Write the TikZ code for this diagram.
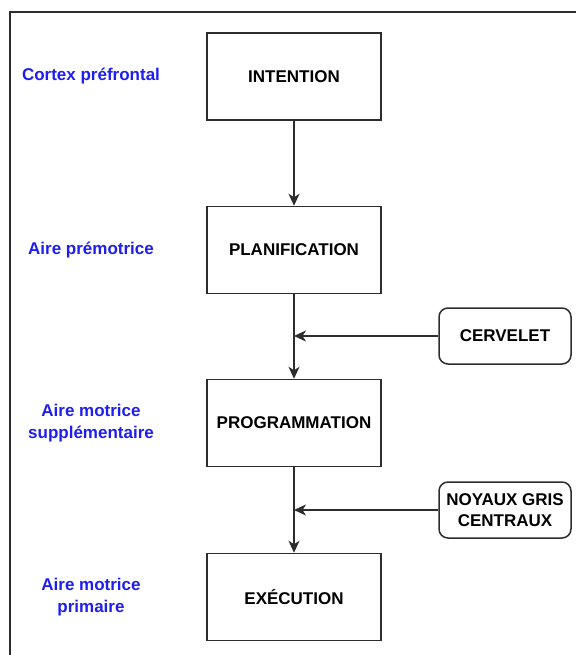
\documentclass[tikz,border=0pt]{standalone}
\usepackage{fontspec}
\setmainfont{Liberation Sans}
\usetikzlibrary{arrows.meta}
\definecolor{lblue}{RGB}{30,30,240}
\definecolor{edge}{RGB}{45,45,45}
\begin{document}
\begin{tikzpicture}[x=1pt,y=-1pt,
  stagebox/.style={draw=edge,line width=1.5pt,minimum width=174pt,minimum height=87pt,font=\fontsize{17}{20}\selectfont\bfseries,inner sep=0pt},
  sidebox/.style={draw=edge,line width=1.5pt,rounded corners=9pt,minimum width=132pt,minimum height=56pt,font=\fontsize{17}{21}\selectfont\bfseries,align=center,inner sep=0pt},
  area/.style={text=lblue,font=\fontsize{17}{22}\selectfont\bfseries,align=center},
  flow/.style={draw=edge,line width=1.4pt,-{Stealth[length=12pt,width=11pt,inset=3.5pt]}}]
\useasboundingbox (0,0) rectangle (576,655);
\fill[white] (0,0) rectangle (576,655);
\draw[draw=edge,line width=1.5pt] (10,655) -- (10,12) -- (576,12);
\node[stagebox] (int) at (294,76.5) {INTENTION};
\node[stagebox] (plan) at (294,250) {PLANIFICATION};
\node[stagebox] (prog) at (294,423) {PROGRAMMATION};
\node[stagebox] (exe) at (294,597) {EXÉCUTION};
\node[sidebox] (cer) at (505,336) {CERVELET};
\node[sidebox] (ngc) at (505,510) {NOYAUX GRIS\\CENTRAUX};
\node[area] (l1) at (91,76) {Cortex préfrontal};
\node[area] (l2) at (91,250) {Aire prémotrice};
\node[area] (l3) at (91,423) {Aire motrice\\supplémentaire};
\node[area] (l4) at (91,597) {Aire motrice\\primaire};
\draw[flow] (int) -- (plan);
\draw[flow] (plan) -- (prog);
\draw[flow] (prog) -- (exe);
\coordinate (j1) at (plan.south |- cer.west);
\coordinate (j2) at (prog.south |- ngc.west);
\draw[flow] (cer.west) -- (j1);
\draw[flow] (ngc.west) -- (j2);
\end{tikzpicture}
\end{document}
